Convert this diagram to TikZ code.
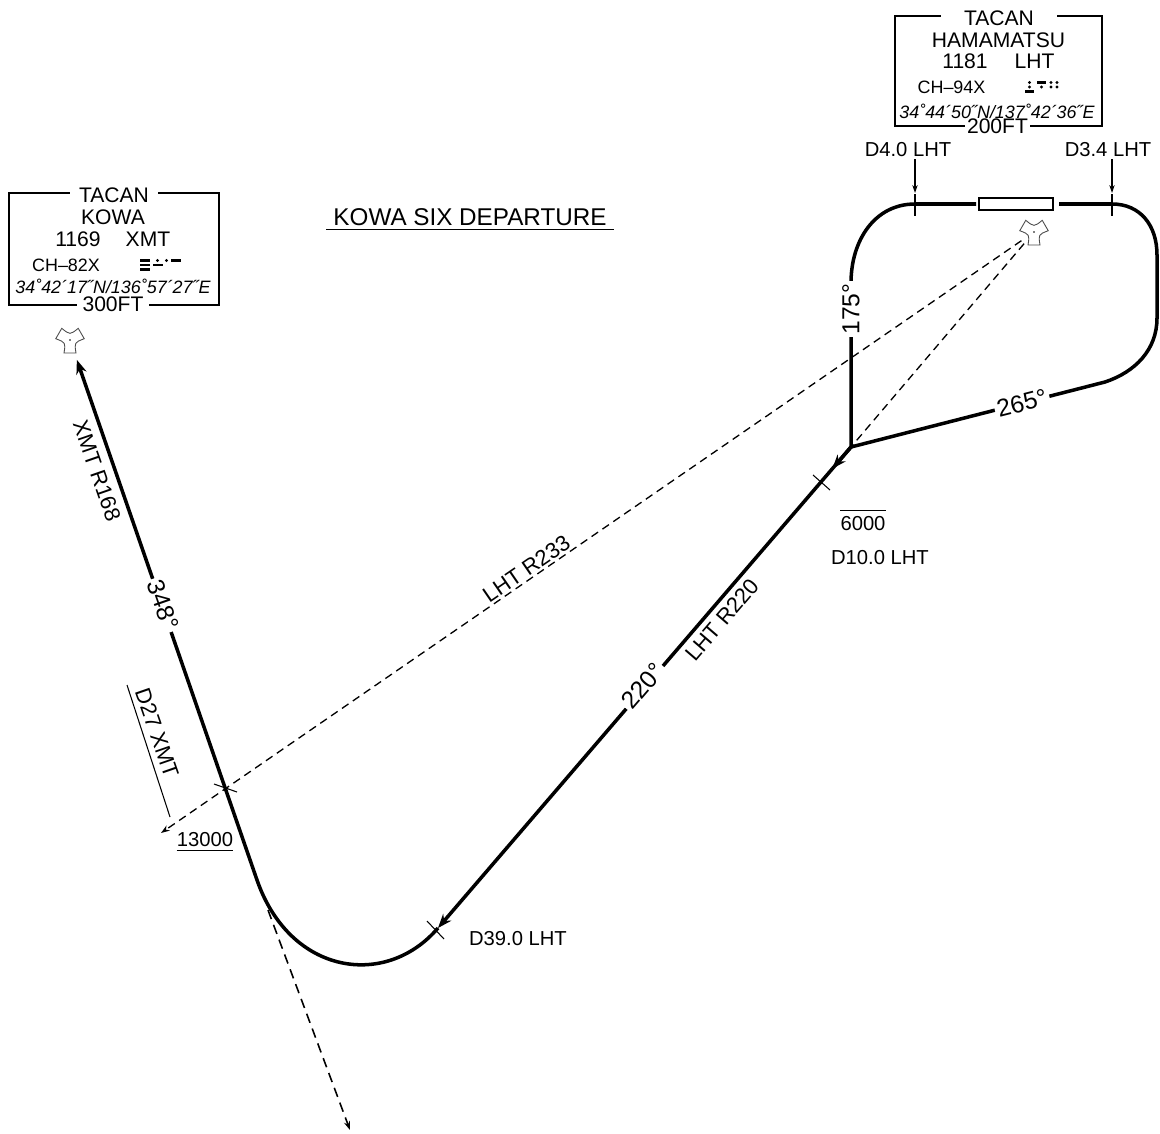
\documentclass[tikz,border=0pt]{standalone}
\usepackage{fontspec}
\setmainfont{Liberation Sans}
\usetikzlibrary{arrows.meta}
\usetikzlibrary{calc}

\tikzset{
  track/.style={line width=2pt, >={Stealth[length=8pt,width=6pt]}},
  fine/.style={line width=0.6pt},
  pointer/.style={line width=0.6pt, >={Stealth[length=4.5pt,width=3pt]}},
  radial/.style={line width=0.75pt, dash pattern=on 4.5pt off 3pt, >={Stealth[length=5pt,width=3.5pt]}},
  lbl/.style={font=\fontsize{11.5}{13}\selectfont, inner sep=1pt},
  crs/.style={font=\fontsize{14}{16}\selectfont, fill=white, inner sep=1.5pt},
  rad/.style={font=\fontsize{12.5}{14}\selectfont, inner sep=1pt},
  boxtxt/.style={font=\fontsize{12}{14}\selectfont, inner sep=0pt},
  smalltxt/.style={font=\fontsize{10.2}{12}\selectfont, inner sep=0pt},
  navaid/.style={circle, inner sep=0pt, minimum size=23.5pt},
  morse/.style={line width=1.4pt},
  tacan/.pic={
    \draw[line width=0.5pt, black!70, fill=white] (65.2:14.3) -- (114.8:14.3)
      .. controls (150:5) .. (185.2:14.3) -- (234.8:14.3)
      .. controls (270:5) .. (305.2:14.3) -- (354.8:14.3)
      .. controls (30:5) .. (65.2:14.3) -- cycle;
    \fill (0,0) circle (0.9);
  }
}

\begin{document}
\begin{tikzpicture}[x=0.02cm,y=-0.02cm]
  \useasboundingbox (0,0) rectangle (1160,1133);

  % fixes and turn points
  \coordinate (join) at (851,447);
  \coordinate (d39) at (438,928);
  \coordinate (tp) at (257,880);
  \coordinate (d40) at (915,204);
  \coordinate (d34) at (1112,204);
  \coordinate (rwyL) at (976,204);
  \coordinate (rwyR) at (1059,204);
  \coordinate (r233end) at (161,833);
  \coordinate (sidbot) at (350,1130);
  \coordinate (sidtop) at (268,910);

  % navaids
  \node[navaid] (kowa) at (70,340) {};
  \pic at (kowa) {tacan};
  \node[navaid, minimum size=17pt] (lht) at (1034,232) {};
  \pic at (lht) {tacan};

  % radials
  \draw[radial,->] (lht) -- (r233end);
  \draw[radial] (lht) -- (join);
  \draw[radial,line width=0.9pt,dash pattern=on 5.5pt off 3.5pt,->] (sidtop) -- (sidbot);

  % runway and the two turns
  \draw[line width=1.5pt] (979,198) rectangle (1053,210);
  \draw[track] (rwyL) -- (d40) .. controls (875,204) and (851,240) .. (851,283) -- (join);
  \draw[track] (rwyR) -- (d34) .. controls (1140,204) and (1157,225) .. (1157,255)
    -- (1157,318) .. controls (1157,350) and (1135,372) .. (1105,382) -- (join);

  % LHT R220 to D39.0 and turn onto XMT R168
  \draw[track,->] (join) -- ($(join)!0.045!(d39)$);
  \draw[track,->] (join) -- (d39);
  \draw[track,->] (d39) .. controls (386,989) and (290,975) .. (tp) -- (kowa);

  % ticks
  \draw[fine] (915,194) -- (915,216);
  \draw[fine] (1112,194) -- (1112,216);
  \draw[fine] (813,475) -- (830,490);
  \draw[fine] (427,921) -- (444,939);
  \draw[fine] (214,784) -- (237,792);
  \draw[fine] (127,685) -- (170,817);

  % course and radial labels
  \node[crs, rotate=-70.9] (c348) at (163,605) {348°};
  \node[crs, rotate=49.3] (c220) at (643,686) {220°};
  \node[crs, rotate=90] (c175) at (851,309) {175°};
  \node[crs, rotate=14.4] (c265) at (1022,403) {265°};
  \node[rad, rotate=-70.9] (xmtr168) at (97,471) {XMT R168};
  \node[rad, rotate=49.3] (lhtr220) at (722,620) {LHT R220};
  \node[rad, rotate=34.5, anchor=south] (lhtr233) at (532,577) {LHT R233};
  \node[rad, rotate=-70.9] (d27lbl) at (157,733) {D27 XMT};

  % fix labels
  \node[lbl] (d40lbl) at (908,150) {D4.0 LHT};
  \node[lbl] (d34lbl) at (1108,150) {D3.4 LHT};
  \draw[pointer,->] (d40lbl.south -| d40) -- (915,193);
  \draw[pointer,->] (d34lbl.south -| d34) -- (1112,193);
  \node[lbl, inner sep=0pt] (alt6000) at (863,524) {6000};
  \draw[fine] ([yshift=3.4pt]alt6000.north west) -- ([yshift=3.4pt]alt6000.north east);
  \node[lbl] (d10lbl) at (880,558) {D10.0 LHT};
  \node[lbl] (d39lbl) at (518,939) {D39.0 LHT};
  \node[lbl, inner sep=0pt] (alt13000) at (205,840) {13000};
  \draw[fine] ([yshift=-1.5pt]alt13000.south west) -- ([yshift=-1.5pt]alt13000.south east);

  % title
  \node[font=\fontsize{13.8}{16}\selectfont, inner sep=0pt] (title) at (470,217) {KOWA SIX DEPARTURE};
  \draw[fine] ([xshift=-4pt,yshift=-2pt]title.south west) -- ([xshift=4pt,yshift=-2pt]title.south east);

  % KOWA box
  \draw[fine] (9,193) rectangle (219,305);
  \node[boxtxt, fill=white, inner xsep=5pt] (kowatacan) at (114,195) {TACAN};
  \node[boxtxt] (kowaname) at (113,217.5) {KOWA};
  \node[boxtxt] (kowafreq) at (78,239) {1169};
  \node[boxtxt] (kowaid) at (148,239) {XMT};
  \node[smalltxt] (kowach) at (66,265) {CH--82X};
  \node[smalltxt] (kowapos) at (113,286.5) {\itshape 34˚42´17˝N/136˚57´27˝E};
  \node[boxtxt, fill=white, inner xsep=3pt] (kowaelev) at (113,304) {300FT};
  \begin{scope}[shift={(140,265)}]
    \foreach \dx/\dy in {0/-4.5, 31/-4.5, 0/0, 13/0, 0/4.5}
      \draw[morse] (\dx,\dy) -- ++(10,0);
    \foreach \dx/\dy in {17.5/-4.5, 26.5/-4.5}
      \fill (\dx,\dy) circle (1.7);
  \end{scope}

  % HAMAMATSU box
  \draw[fine] (895,16) rectangle (1102,126);
  \node[boxtxt, fill=white, inner xsep=13pt] (lhttacan) at (999,18) {TACAN};
  \node[boxtxt] (lhtname) at (998.5,40) {HAMAMATSU};
  \node[boxtxt] (lhtfreq) at (965,61) {1181};
  \node[boxtxt] (lhtid) at (1034.5,61) {LHT};
  \node[smalltxt] (lhtch) at (951.5,87.5) {CH--94X};
  \node[smalltxt] (lhtpos) at (997,111) {\itshape 34˚44´50˝N/137˚42´36˝E};
  \node[boxtxt, fill=white, inner xsep=1pt] (lhtelev) at (997.5,126) {200FT};
  \begin{scope}[shift={(1025,87)}]
    \foreach \dx/\dy in {12/-4.5, 0/4.5}
      \draw[morse] (\dx,\dy) -- ++(9,0);
    \foreach \dx/\dy in {4.5/-4.5, 26/-4.5, 32/-4.5, 4.5/0, 16.5/0, 26/0, 32/0}
      \fill (\dx,\dy) circle (1.7);
  \end{scope}
\end{tikzpicture}
\end{document}
